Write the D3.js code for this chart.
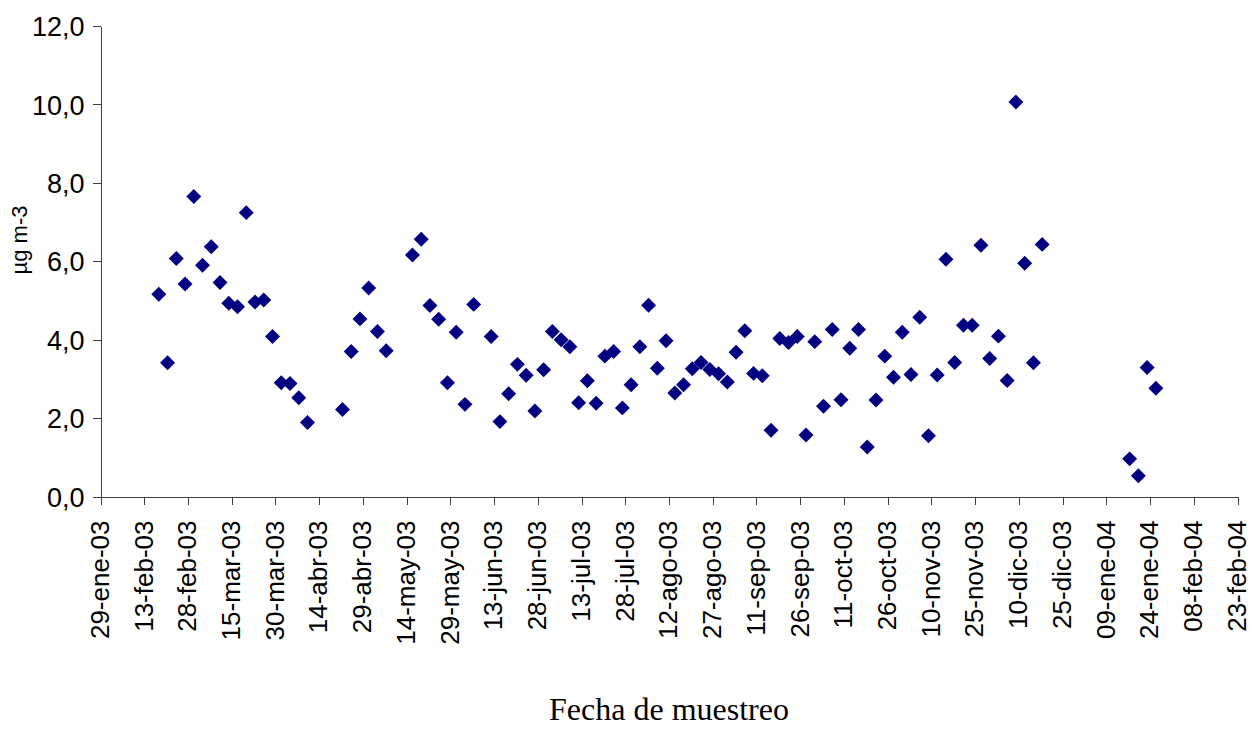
<!DOCTYPE html>
<html>
<head>
<meta charset="utf-8">
<script src="https://cdn.jsdelivr.net/npm/d3@7"></script>
<style>
  html, body { margin: 0; padding: 0; background: #ffffff; }
  svg { display: block; }
</style>
</head>
<body>
<svg id="chart" width="1252" height="729"></svg>
<script>
// Sampling dates (every three days, with gaps) and concentrations in µg m-3
const fechas = [
  "2003-02-18","2003-02-21","2003-02-24","2003-02-27","2003-03-02","2003-03-05",
  "2003-03-08","2003-03-11","2003-03-14","2003-03-17","2003-03-20","2003-03-23",
  "2003-03-26","2003-03-29","2003-04-01","2003-04-04","2003-04-07","2003-04-10",
  "2003-04-22","2003-04-25","2003-04-28","2003-05-01","2003-05-04","2003-05-07",
  "2003-05-16","2003-05-19","2003-05-22","2003-05-25","2003-05-28","2003-05-31",
  "2003-06-03","2003-06-06","2003-06-12","2003-06-15","2003-06-18","2003-06-21",
  "2003-06-24","2003-06-27","2003-06-30","2003-07-03","2003-07-06","2003-07-09",
  "2003-07-12","2003-07-15","2003-07-18","2003-07-21","2003-07-24","2003-07-27",
  "2003-07-30","2003-08-02","2003-08-05","2003-08-08","2003-08-11","2003-08-14",
  "2003-08-17","2003-08-20","2003-08-23","2003-08-26","2003-08-29","2003-09-01",
  "2003-09-04","2003-09-07","2003-09-10","2003-09-13","2003-09-16","2003-09-19",
  "2003-09-22","2003-09-25","2003-09-28","2003-10-01","2003-10-04","2003-10-07",
  "2003-10-10","2003-10-13","2003-10-16","2003-10-19","2003-10-22","2003-10-25",
  "2003-10-28","2003-10-31","2003-11-03","2003-11-06","2003-11-09","2003-11-12",
  "2003-11-15","2003-11-18","2003-11-21","2003-11-24","2003-11-27","2003-11-30",
  "2003-12-03","2003-12-06","2003-12-09","2003-12-12","2003-12-15","2003-12-18",
  "2004-01-17","2004-01-20","2004-01-23","2004-01-26"
];

const concentraciones = [
  5.16, 3.41, 6.07, 5.42, 7.65, 5.90,
  6.37, 5.46, 4.93, 4.84, 7.24, 4.96,
  5.01, 4.08, 2.90, 2.88, 2.52, 1.89,
  2.22, 3.70, 4.53, 5.32, 4.21, 3.72,
  6.16, 6.56, 4.87, 4.52, 2.90, 4.19,
  2.35, 4.90, 4.08, 1.91, 2.62, 3.37,
  3.09, 2.18, 3.23, 4.21, 4.00, 3.82,
  2.39, 2.95, 2.38, 3.58, 3.70, 2.26,
  2.85, 3.82, 4.88, 3.27, 3.97, 2.64,
  2.85, 3.26, 3.42, 3.24, 3.13, 2.92,
  3.68, 4.23, 3.14, 3.08, 1.69, 4.03,
  3.93, 4.08, 1.57, 3.95, 2.30, 4.26,
  2.47, 3.78, 4.26, 1.26, 2.46, 3.58,
  3.04, 4.19, 3.11, 4.57, 1.55, 3.10,
  6.05, 3.42, 4.37, 4.37, 6.41, 3.52,
  4.09, 2.96, 10.06, 5.95, 3.41, 6.43,
  0.96, 0.53, 3.29, 2.76
];

// Date axis labels (15-day steps)
const etiquetasFecha = [
  "29-ene-03","13-feb-03","28-feb-03","15-mar-03","30-mar-03","14-abr-03",
  "29-abr-03","14-may-03","29-may-03","13-jun-03","28-jun-03","13-jul-03",
  "28-jul-03","12-ago-03","27-ago-03","11-sep-03","26-sep-03","11-oct-03",
  "26-oct-03","10-nov-03","25-nov-03","10-dic-03","25-dic-03","09-ene-04",
  "24-ene-04","08-feb-04","23-feb-04"
];

// Value axis ticks
const valoresEje = [0, 2, 4, 6, 8, 10, 12];

const tituloX = "Fecha de muestreo";
const tituloY = "µg m-3";

// Spanish locale for dates and decimal comma
const localeFecha = d3.timeFormatLocale({
  dateTime: "%A, %e de %B de %Y, %X",
  date: "%d/%m/%Y",
  time: "%H:%M:%S",
  periods: ["AM", "PM"],
  days: ["domingo","lunes","martes","miércoles","jueves","viernes","sábado"],
  shortDays: ["dom","lun","mar","mié","jue","vie","sáb"],
  months: ["enero","febrero","marzo","abril","mayo","junio","julio","agosto","septiembre","octubre","noviembre","diciembre"],
  shortMonths: ["ene","feb","mar","abr","may","jun","jul","ago","sep","oct","nov","dic"]
});
const localeNum = d3.formatLocale({ decimal: ",", thousands: ".", grouping: [3], currency: ["", " €"] });

const parseISO = d3.utcParse("%Y-%m-%d");
const parseEtiqueta = localeFecha.utcParse("%d-%b-%y");
const formatEtiqueta = localeFecha.utcFormat("%d-%b-%y");
const formatValor = localeNum.format(".1f");

const datos = fechas.map((f, i) => ({ fecha: parseISO(f), valor: concentraciones[i] }));
const ticksFecha = etiquetasFecha.map(parseEtiqueta);

const svg = d3.select("#chart");

const plot = { left: 100.5, right: 1237.5, top: 26, bottom: 496.5 };

const x = d3.scaleUtc()
  .domain([ticksFecha[0], ticksFecha[ticksFecha.length - 1]])
  .range([plot.left, plot.right]);

const y = d3.scaleLinear()
  .domain([0, 12])
  .range([plot.bottom, plot.top]);

const axisColor = "#404040";
const font = "'Liberation Sans', Arial, Helvetica, sans-serif";

// Value axis
const gy = svg.append("g")
  .attr("transform", `translate(${plot.left},0)`)
  .call(d3.axisLeft(y).tickValues(valoresEje).tickFormat(formatValor).tickSize(8).tickSizeOuter(0));
gy.select(".domain").attr("stroke", axisColor);
gy.selectAll(".tick line").attr("stroke", axisColor);
gy.selectAll(".tick text")
  .attr("x", -16)
  .attr("dy", "0.36em")
  .attr("fill", "#000")
  .style("font-family", font)
  .style("font-size", "27px");

// Date axis
const gx = svg.append("g")
  .attr("transform", `translate(0,${plot.bottom})`)
  .call(d3.axisBottom(x).tickValues(ticksFecha).tickFormat(formatEtiqueta).tickSize(8).tickSizeOuter(0));
gx.select(".domain").attr("stroke", axisColor);
gx.selectAll(".tick line").attr("stroke", axisColor);
gx.selectAll(".tick text")
  .attr("transform", "rotate(-90)")
  .attr("x", -24)
  .attr("y", 0)
  .attr("dy", "0.3em")
  .attr("text-anchor", "end")
  .attr("fill", "#000")
  .style("font-family", font)
  .style("font-size", "26px");

gx.selectAll("path.domain, .tick line").attr("shape-rendering", "crispEdges");
gy.selectAll("path.domain, .tick line").attr("shape-rendering", "crispEdges");

// Sample points as navy diamonds
const diamante = d3.symbol().type(d3.symbolSquare).size(112);
svg.append("g")
  .selectAll("path")
  .data(datos)
  .join("path")
  .attr("d", diamante)
  .attr("transform", d => `translate(${x(d.fecha)},${y(d.valor)}) rotate(45)`)
  .attr("fill", "#000080");

// Axis titles
svg.append("text")
  .attr("x", (plot.left + plot.right) / 2)
  .attr("y", 720)
  .attr("text-anchor", "middle")
  .style("font-family", "'Liberation Serif', 'Times New Roman', serif")
  .style("font-size", "32px")
  .attr("fill", "#000")
  .text(tituloX);

svg.append("text")
  .attr("transform", `translate(27,240) rotate(-90)`)
  .attr("text-anchor", "middle")
  .style("font-family", font)
  .style("font-size", "22px")
  .attr("fill", "#000")
  .text(tituloY);
</script>
</body>
</html>
